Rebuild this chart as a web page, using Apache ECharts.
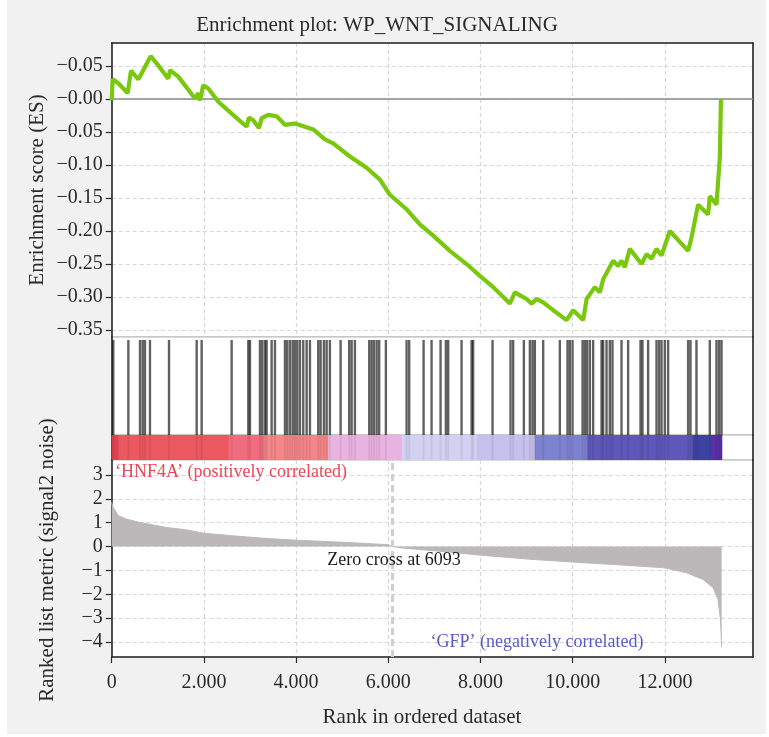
<!DOCTYPE html>
<html><head><meta charset="utf-8">
<script src="https://cdn.jsdelivr.net/npm/echarts@6/dist/echarts.min.js"></script>
<style>html,body{margin:0;padding:0;background:#fff;}#c{position:absolute;left:7px;top:0;width:759px;height:734px;}</style>
</head><body><div id="c"></div>
<script>
// ---------------- data ----------------
const titleText = 'Enrichment plot: WP_WNT_SIGNALING';
const esAxisName = 'Enrichment score (ES)';
const metricAxisName = 'Ranked list metric (signal2 noise)';
const rankAxisName = 'Rank in ordered dataset';
const posLabel = '\u2018HNF4A\u2019 (positively correlated)';
const negLabel = '\u2018GFP\u2019 (negatively correlated)';
const zeroCross = 6093;
const zeroCrossText = 'Zero cross at 6093';
const rankMax = 13910;

const esRanks = [0, 20, 143, 347, 418, 577, 650, 722, 845, 1010, 1227, 1264, 1444, 1806, 1878, 1915, 1986, 2095, 2312, 2602, 2927, 2977, 3071, 3194, 3252, 3396, 3578, 3758, 3974, 4191, 4372, 4625, 4805, 5167, 5529, 5818, 6034, 6396, 6685, 6974, 7335, 7697, 7986, 8275, 8636, 8745, 8998, 9107, 9215, 9359, 9576, 9866, 10010, 10227, 10300, 10480, 10588, 10660, 10877, 10985, 11058, 11130, 11238, 11492, 11600, 11709, 11817, 11926, 12106, 12503, 12576, 12719, 12936, 12973, 13118, 13153, 13190, 13215];
const esValues = [-0.002, 0.030, 0.024, 0.009, 0.043, 0.030, 0.039, 0.049, 0.065, 0.051, 0.031, 0.044, 0.034, 0.001, 0.009, -0.002, 0.021, 0.016, -0.004, -0.022, -0.042, -0.028, -0.032, -0.044, -0.029, -0.024, -0.026, -0.039, -0.037, -0.042, -0.046, -0.061, -0.067, -0.087, -0.104, -0.122, -0.145, -0.167, -0.190, -0.207, -0.230, -0.250, -0.268, -0.285, -0.310, -0.293, -0.303, -0.310, -0.303, -0.308, -0.320, -0.335, -0.320, -0.335, -0.303, -0.285, -0.293, -0.273, -0.245, -0.253, -0.245, -0.255, -0.227, -0.250, -0.235, -0.242, -0.227, -0.237, -0.200, -0.230, -0.210, -0.160, -0.175, -0.147, -0.160, -0.125, -0.089, 0.000];

const hitRanks = [35, 361, 614, 672, 722, 830, 1243, 1843, 1951, 2602, 2963, 2999, 3216, 3266, 3324, 3360, 3469, 3541, 3758, 3808, 3866, 3925, 3974, 4025, 4083, 4155, 4228, 4300, 4480, 4531, 4603, 4662, 4733, 4965, 5152, 5204, 5275, 5586, 5637, 5688, 5747, 5802, 5947, 6396, 6453, 6765, 6938, 7133, 7248, 7299, 7589, 7806, 7840, 8261, 8651, 8708, 8940, 9070, 9128, 9178, 9359, 9720, 9887, 9937, 9996, 10213, 10262, 10312, 10371, 10443, 10625, 10660, 10733, 10804, 10862, 11058, 11201, 11470, 11513, 11635, 11817, 11873, 11926, 11997, 12069, 12503, 12554, 12684, 12973, 13118, 13175, 13227];

const metricRanks = [0, 30, 80, 143, 325, 614, 1193, 1627, 2000, 2631, 3361, 4000, 4800, 5529, 6000, 6093, 6250, 7263, 8000, 9070, 10000, 10877, 12000, 12467, 12828, 13045, 13153, 13205, 13230];
const metricValues = [1.86, 1.65, 1.50, 1.30, 1.15, 1.01, 0.80, 0.70, 0.56, 0.45, 0.34, 0.27, 0.20, 0.13, 0.08, 0.0, -0.05, -0.22, -0.36, -0.53, -0.65, -0.75, -0.89, -1.10, -1.38, -1.73, -2.23, -3.07, -4.2];

const colorBarStarts = [0, 150, 2537, 3300, 4697, 6288, 7916, 9178, 10320, 12600, 13020];
const colorBarEnds   = [150, 2537, 3300, 4697, 6288, 7916, 9178, 10320, 12600, 13020, 13230];

const esTickValues = [0.05, 0, -0.05, -0.1, -0.15, -0.2, -0.25, -0.3, -0.35];
const esTickLabels = ['\u22120.05', '\u22120.00', '\u22120.05', '\u22120.10', '\u22120.15', '\u22120.20', '\u22120.25', '\u22120.30', '\u22120.35'];
const metricTickValues = [3, 2, 1, 0, -1, -2, -3, -4];
const metricTickLabels = ['3', '2', '1', '0', '\u22121', '\u22122', '\u22123', '\u22124'];
const rankTickValues = [0, 2000, 4000, 6000, 8000, 10000, 12000];
const rankTickLabels = ['0', '2.000', '4.000', '6.000', '8.000', '10.000', '12.000'];

// ---------------- styles ----------------
const colorBarColors = ['#de4450', '#ea5860', '#f06c7e', '#f5868a', '#e9b3e1', '#d3d1f2', '#c5c1ec', '#7e83d1', '#5f57b9', '#3d42a2', '#5a2fa8'];
const FONT = 'Liberation Serif';
const DARK = '#2a2a2a';

function lookup(vals, labels) {
  return function (v) {
    for (let i = 0; i < vals.length; i++) if (Math.abs(v - vals[i]) < 1e-6) return labels[i];
    return '';
  };
}

const L = 104.7, W = 641.3;
const grids = [
  { left: L, width: W, top: 43, height: 294 },
  { left: L, width: W, top: 337, height: 98 },
  { left: L, width: W, top: 435, height: 25 },
  { left: L, width: W, top: 460, height: 197 }
].map(g => Object.assign(g, { show: true, backgroundColor: '#ffffff', borderColor: '#b4b4b4', borderWidth: 1 }));

const splitStyle = { color: '#d6d6d6', type: [4, 3], width: 1.2 };

const xAxes = [0, 1, 2, 3].map(i => ({
  type: 'value', gridIndex: i, min: 0, max: rankMax, interval: 2000,
  position: i === 0 ? 'top' : 'bottom',
  axisLine: { show: i === 0 || i === 3, onZero: false, lineStyle: { color: DARK, width: 1.6 } },
  axisTick: { show: i === 3, customValues: rankTickValues, length: 6, lineStyle: { color: DARK, width: 1.2 } },
  axisLabel: { show: i === 3, customValues: rankTickValues, formatter: lookup(rankTickValues, rankTickLabels), margin: 16, fontFamily: FONT, fontSize: 20, color: DARK },
  splitLine: { show: i === 0 || i === 3, lineStyle: splitStyle }
}));

const yAxes = [
  {
    type: 'value', gridIndex: 0, min: -0.3606, max: 0.085, minInterval: 0.05, maxInterval: 0.05,
    axisLine: { show: true, onZero: false, lineStyle: { color: DARK, width: 1.6 } },
    axisTick: { show: true, customValues: esTickValues, length: 6, lineStyle: { color: DARK, width: 1.2 } },
    axisLabel: { customValues: esTickValues, formatter: lookup(esTickValues, esTickLabels), margin: 9, fontFamily: FONT, fontSize: 20, color: DARK },
    splitLine: { show: true, lineStyle: splitStyle }
  },
  { type: 'value', gridIndex: 1, min: 0, max: 1, axisLine: { show: true, onZero: false, lineStyle: { color: DARK, width: 1.6 } }, axisTick: { show: false }, axisLabel: { show: false }, splitLine: { show: false } },
  { type: 'value', gridIndex: 2, min: 0, max: 1, axisLine: { show: true, onZero: false, lineStyle: { color: DARK, width: 1.6 } }, axisTick: { show: false }, axisLabel: { show: false }, splitLine: { show: false } },
  {
    type: 'value', gridIndex: 3, min: -4.627, max: 3.629, minInterval: 1, maxInterval: 1,
    axisLine: { show: true, onZero: false, lineStyle: { color: DARK, width: 1.6 } },
    axisTick: { show: true, customValues: metricTickValues, length: 6, lineStyle: { color: DARK, width: 1.2 } },
    axisLabel: { customValues: metricTickValues, formatter: lookup(metricTickValues, metricTickLabels), margin: 9, fontFamily: FONT, fontSize: 20, color: DARK },
    splitLine: { show: true, lineStyle: splitStyle }
  }
];
[0, 1, 2, 3].forEach(i => yAxes.push({
  type: 'value', gridIndex: i, position: 'right', min: 0, max: 1,
  axisLine: { show: true, onZero: false, lineStyle: { color: DARK, width: 1.6 } },
  axisTick: { show: false }, axisLabel: { show: false }, splitLine: { show: false }
}));

const txt = (o) => Object.assign({ type: 'text', z: 100 }, o);

function hitRenderer(stroke, width, topVal) {
  return function (params, api) {
    const t = api.coord([api.value(0), topVal]);
    const b = api.coord([api.value(0), 0]);
    return { type: 'line', shape: { x1: t[0], y1: t[1], x2: b[0], y2: b[1] }, style: { stroke: stroke, lineWidth: width } };
  };
}

const option = {
  animation: false,
  backgroundColor: '#f1f1f1',
  grid: grids,
  xAxis: xAxes,
  yAxis: yAxes,
  series: [
    {
      type: 'line', xAxisIndex: 0, yAxisIndex: 0, data: [], z: 2, silent: true,
      markLine: { silent: true, symbol: ['none', 'none'], label: { show: false }, lineStyle: { color: '#8a8a8a', type: 'solid', width: 1.5 }, data: [{ yAxis: 0 }] }
    },
    {
      type: 'line', xAxisIndex: 0, yAxisIndex: 0, z: 5, showSymbol: false, symbol: 'none',
      data: esRanks.map((r, i) => [r, esValues[i]]),
      lineStyle: { color: '#79c80e', width: 4.2 }
    },
    {
      type: 'custom', xAxisIndex: 1, yAxisIndex: 1, z: 3,
      data: hitRanks.map(r => [r, 1]),
      encode: { x: 0, y: 1 },
      renderItem: hitRenderer('rgba(0,0,0,0.62)', 2.4, 0.97)
    },
    {
      type: 'custom', xAxisIndex: 2, yAxisIndex: 2, z: 3,
      data: colorBarStarts.map((s, i) => [s, colorBarEnds[i]]),
      encode: { x: [0, 1] },
      renderItem: function (params, api) {
        const p0 = api.coord([api.value(0), 1]);
        const p1 = api.coord([api.value(1), 0]);
        return { type: 'rect', shape: { x: p0[0], y: p0[1], width: p1[0] - p0[0] + 0.6, height: p1[1] - p0[1] }, style: { fill: colorBarColors[params.dataIndex] } };
      }
    },
    {
      type: 'custom', xAxisIndex: 2, yAxisIndex: 2, z: 4,
      data: hitRanks.map(r => [r, 1]),
      encode: { x: 0, y: 1 },
      renderItem: hitRenderer('rgba(0,0,0,0.07)', 2, 1)
    },
    {
      type: 'line', xAxisIndex: 3, yAxisIndex: 3, z: 3, showSymbol: false, symbol: 'none',
      data: metricRanks.map((r, i) => [r, metricValues[i]]),
      lineStyle: { color: '#bcb8ba', width: 1 },
      areaStyle: { color: '#bcb8ba', opacity: 1 }
    },
    {
      type: 'line', xAxisIndex: 3, yAxisIndex: 3, data: [], z: 4, silent: true,
      markLine: { silent: true, symbol: ['none', 'none'], label: { show: false }, lineStyle: { color: '#cfcfcf', type: [7, 4], width: 3 }, data: [{ xAxis: zeroCross }] }
    }
  ],
  graphic: [
    txt({ x: 370, y: 25, style: { text: titleText, font: '21px "Liberation Serif"', fill: DARK, textAlign: 'center', textVerticalAlign: 'middle' } }),
    txt({ x: 30, y: 190, rotation: Math.PI / 2, style: { text: esAxisName, font: '21px "Liberation Serif"', fill: DARK, textAlign: 'center', textVerticalAlign: 'middle' } }),
    txt({ x: 40, y: 560, rotation: Math.PI / 2, style: { text: metricAxisName, font: '21px "Liberation Serif"', fill: DARK, textAlign: 'center', textVerticalAlign: 'middle' } }),
    txt({ x: 415, y: 717, style: { text: rankAxisName, font: '21px "Liberation Serif"', fill: DARK, textAlign: 'center', textVerticalAlign: 'middle' } }),
    txt({ x: 387, y: 560, style: { text: zeroCrossText, font: '18px "Liberation Serif"', fill: '#1a1a1a', textAlign: 'center', textVerticalAlign: 'middle' } }),
    txt({ x: 108, y: 472, style: { text: posLabel, font: '18px "Liberation Serif"', fill: '#e64b55', textAlign: 'left', textVerticalAlign: 'middle' } }),
    txt({ x: 530, y: 642, style: { text: negLabel, font: '18px "Liberation Serif"', fill: '#5a5ac6', textAlign: 'center', textVerticalAlign: 'middle' } })
  ]
};

const chart = echarts.init(document.getElementById('c'), null, { renderer: 'canvas' });
chart.setOption(option);
</script>
</body></html>
